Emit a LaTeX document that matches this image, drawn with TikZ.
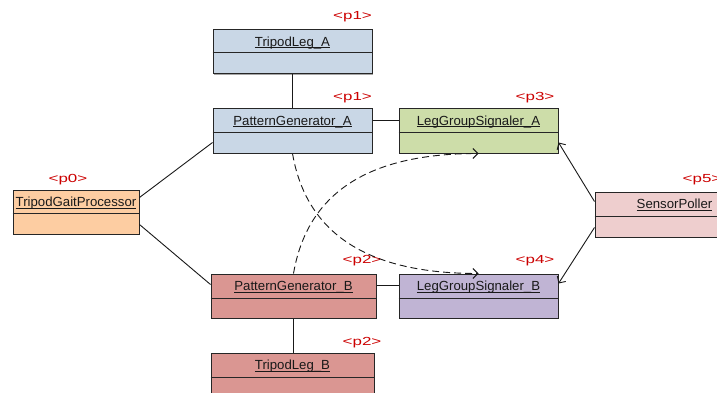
\documentclass[tikz,border=0pt]{standalone}
\usepackage{fontspec}
\setmainfont{Liberation Sans}
\usetikzlibrary{arrows.meta,calc,shadows}
\definecolor{cblue}{RGB}{201,215,230}
\definecolor{corange}{RGB}{253,205,162}
\definecolor{cgreen}{RGB}{205,221,169}
\definecolor{cpink}{RGB}{238,206,206}
\definecolor{cred}{RGB}{218,150,146}
\definecolor{cpurple}{RGB}{192,180,212}
\definecolor{lblred}{RGB}{204,0,0}
\newcommand\ulx[1]{\setbox0\hbox{#1}\rlap{\rule[-2.2pt]{\wd0}{0.9pt}}\box0}
\newcommand\umlbox[9]{%
  % #1 name, #2 cx, #3 cy, #4 w, #5 h, #6 sep y, #7 colour, #8 title baseline y, #9 text
  \node[umlbox, fill=#7, minimum width=#4pt, minimum height=#5pt] (#1) at (#2,#3) {};
  \draw[sepline] (#1.west |- 0,#6) -- (#1.east |- 0,#6);
  \node[titletext] (#1-t) at (#2,#8) {\ulx{#9}};
}
\begin{document}
\begin{tikzpicture}[x=1pt,y=-1pt,
  umlbox/.style={draw=black!85, line width=1pt, rectangle, inner sep=0pt,
    drop shadow={shadow xshift=1.2pt, shadow yshift=-1.2pt, opacity=0.35, fill=black}},
  sepline/.style={draw=black!85, line width=1pt},
  titletext/.style={anchor=base, inner sep=0pt, font=\fontsize{13.2}{15}\selectfont, text=black!90},
  plabel/.style={anchor=base, inner sep=0pt, text=lblred, font=\fontsize{11.7}{14}\selectfont},
  conn/.style={draw=black!90, line width=0.9pt},
  dconn/.style={draw=black!90, line width=0.9pt, dash pattern=on 7pt off 4pt, -{Straight Barb[length=5pt,width=10pt]}},
  aconn/.style={draw=black!90, line width=0.9pt, -{Straight Barb[length=5pt,width=10pt]}}
]
\useasboundingbox (0,0) rectangle (717,393);
\clip (0,0) rectangle (717,393);
\fill[white] (0,0) rectangle (717,393);

\umlbox{tla}{292.5}{52}{159}{44}{53}{cblue}{46.2}{TripodLeg\_A}
\umlbox{pga}{292.5}{131}{159}{44}{133}{cblue}{125.2}{PatternGenerator\_A}
\umlbox{lgsa}{478.5}{131}{159}{44}{133}{cgreen}{125.2}{LegGroupSignaler\_A}
\umlbox{tgp}{76}{212}{126}{44}{213.5}{corange}{206.2}{TripodGaitProcessor}
\umlbox{sp}{674.5}{214.5}{159}{45}{216}{cpink}{208.6}{SensorPoller}
\umlbox{pgb}{293.5}{296}{165}{44}{298}{cred}{290.2}{PatternGenerator\_B}
\umlbox{lgsb}{478.5}{296}{159}{44}{298}{cpurple}{290.2}{LegGroupSignaler\_B}
\umlbox{tlb}{292.5}{375}{163}{44}{377}{cred}{369.2}{TripodLeg\_B}

\node[plabel] (l1) at (352.5,20) {\scalebox{1.45}[1]{<p1>}};
\node[plabel] (l2) at (352.5,100.7) {\scalebox{1.45}[1]{<p1>}};
\node[plabel] (l0) at (68,182.5) {\scalebox{1.45}[1]{<p0>}};
\node[plabel] (l3) at (535,101) {\scalebox{1.45}[1]{<p3>}};
\node[plabel] (l5) at (702,182.5) {\scalebox{1.45}[1]{<p5>}};
\node[plabel] (l2a) at (362,263.5) {\scalebox{1.45}[1]{<p2>}};
\node[plabel] (l2b) at (362,345) {\scalebox{1.45}[1]{<p2>}};
\node[plabel] (l4) at (535,263.5) {\scalebox{1.45}[1]{<p4>}};

\draw[conn] (tla.south) -- (pga.north);
\draw[conn] (pgb.south) -- (pgb.south |- tlb.north);
\draw[conn] ([yshift=-12pt]pga.north east) -- ([yshift=-12pt]lgsa.north west);
\draw[conn] ([yshift=-12pt]pgb.north east) -- ([yshift=-12pt]lgsb.north west);
\draw[conn] ([yshift=-8pt]tgp.north east) -- ([yshift=11pt]pga.south west);
\draw[conn] ([yshift=10pt]tgp.south east) -- ([yshift=-11pt]pgb.north west);
\draw[aconn] ([yshift=-10pt]sp.north west) -- ([yshift=11pt]lgsa.south east);
\draw[aconn] ([yshift=10pt]sp.south west) -- ([yshift=-10pt]lgsb.north east);
\draw[dconn] (pga.south) .. controls +(14,81) and +(-110,0) .. ([xshift=-80pt]lgsb.north east);
\draw[dconn] (pgb.north) .. controls +(14,-81) and +(-110,0) .. ([xshift=-80pt]lgsa.south east);
\end{tikzpicture}
\end{document}
